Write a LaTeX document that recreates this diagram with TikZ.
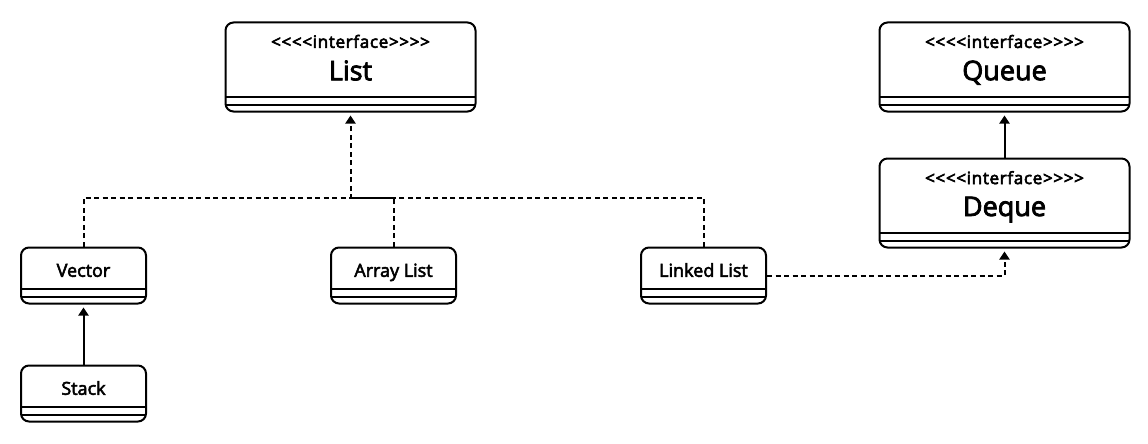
\documentclass[tikz,border=0pt]{standalone}
\usepackage{fontspec}
\setmainfont{Open Sans}[Ligatures=TeXOff, FakeBold=3]
\newfontfamily\stereofont{Open Sans}[Ligatures=TeXOff, LetterSpace=4, FakeBold=3.5]
\usetikzlibrary{arrows.meta, positioning}

\newcommand{\ifacetext}[1]{\begin{tabular}{@{}c@{}}{\stereofont\fontsize{17}{19.2}\selectfont <<<<interface>>>>}\\[6.9pt]{\fontsize{27}{32}\selectfont #1}\\[13.6pt]\end{tabular}}
\newcommand{\clstext}[1]{\begin{tabular}{@{}c@{}}#1\\[6pt]\end{tabular}}

\begin{document}
\begin{tikzpicture}[
        x=1pt, y=-1pt,
        node distance=45pt and 183pt,
        >={Triangle[width=10pt,length=8pt]},
        umlbox/.style={draw=black, line width=2pt, rounded corners=8pt, inner sep=0pt, fill=white,
            path picture={
                \draw[line width=2pt] ([yshift=14.5pt]path picture bounding box.south west) -- ([yshift=14.5pt]path picture bounding box.south east);
                \draw[line width=2pt] ([yshift=7pt]path picture bounding box.south west) -- ([yshift=7pt]path picture bounding box.south east);
            }},
        iface/.style={umlbox, minimum width=250pt, minimum height=89pt, font=\fontsize{16}{19.2}\selectfont},
        cls/.style={umlbox, minimum width=125pt, minimum height=56pt, font=\fontsize{18}{21.6}\selectfont},
        dotline/.style={line width=2pt, dash pattern=on 5pt off 3.5pt},
        realize/.style={dotline, ->, shorten >=3pt},
        extend/.style={line width=2pt, ->, shorten >=3pt}
    ]
        \useasboundingbox (0,0) rectangle (1148,444);

        \node[iface] (list) at (350.5,67) {\ifacetext{List}};
        \node[iface, right=402pt of list] (queue) {\ifacetext{Queue}};
        \node[iface, below=of queue] (deque) {\ifacetext{Deque}};
        \node[cls] (vector) at (83.5,275.5) {\clstext{Vector}};
        \node[cls, right=of vector] (array) {\clstext{Array List}};
        \node[cls, right=of array] (linked) {\clstext{Linked List}};
        \node[cls, below=60pt of vector] (stack) {\clstext{Stack}};

        \coordinate (bus) at ([yshift=-85pt]list.south);

        \draw[realize] (vector.north) |- (bus) -- (list.south);
        \draw[dotline] (array.north) |- (bus);
        \draw[dotline] (linked.north) |- (bus);
        \draw[realize] (linked.east) -| (deque.south);
        \draw[extend] (deque.north) -- (queue.south);
        \draw[extend] (stack.north) -- (vector.south);
    \end{tikzpicture}
\end{document}
